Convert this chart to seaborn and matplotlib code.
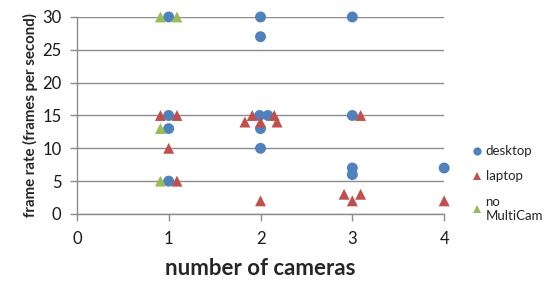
import pandas as pd
import matplotlib
matplotlib.use("Agg")
import matplotlib.pyplot as plt
import seaborn as sns

# =====================================
# Data
# =====================================
desktop_x = [1, 1, 1, 1, 2, 2, 1.99, 2.08, 2, 2, 3, 3, 3, 3, 4]
desktop_y = [30, 15, 13, 5, 30, 27, 15, 15, 13, 10, 30, 15, 7, 6, 7]

laptop_x = [0.91, 1.09, 1.0, 1.09, 1.91, 2.15, 1.83, 2.0, 2.18, 2.0,
            3.09, 2.91, 3.0, 3.09, 4.0]
laptop_y = [15, 15, 10, 5, 15, 15, 14, 14, 14, 2, 15, 3, 2, 3, 2]

nomc_x = [0.91, 1.09, 0.91, 0.91]
nomc_y = [30, 30, 13, 5]

series = ["desktop", "laptop", "no\nMultiCam"]
colors = ["#4F81BD", "#C0504D", "#9BBB59"]
markers = ["o", "^", "^"]
x_ticks = [0, 1, 2, 3, 4]
y_ticks = [0, 5, 10, 15, 20, 25, 30]

df = pd.concat([
    pd.DataFrame({"cams": desktop_x, "fps": desktop_y, "type": series[0]}),
    pd.DataFrame({"cams": laptop_x, "fps": laptop_y, "type": series[1]}),
    pd.DataFrame({"cams": nomc_x, "fps": nomc_y, "type": series[2]}),
])

# =====================================
# Plot
# =====================================
sns.set_style("white")
plt.rcParams["font.family"] = ["Lato", "DejaVu Sans"]

fig = plt.figure(figsize=(5.45, 2.98), dpi=100)
ax = fig.add_axes([0.141, 0.282, 0.674, 0.661])

for ax_y in y_ticks:
    ax.axhline(ax_y, color="#8c8c8c", lw=1.0, zorder=0)

sns.scatterplot(
    data=df, x="cams", y="fps",
    hue="type", style="type",
    palette=dict(zip(series, colors)),
    markers=dict(zip(series, markers)),
    s=62, linewidth=0, clip_on=False, zorder=3,
    ax=ax
)

ax.set_xlim(0, 4)
ax.set_ylim(0, 30)
ax.set_xticks(x_ticks)
ax.set_yticks(y_ticks)
ax.tick_params(axis="both", labelsize=12, length=5, width=1,
               color="#8c8c8c", direction="out", labelcolor="#1a1a1a")
ax.tick_params(axis="y", left=True, pad=6)
ax.tick_params(axis="x", bottom=True, pad=7)

for side in ["top", "right"]:
    ax.spines[side].set_visible(False)
for side in ["left", "bottom"]:
    ax.spines[side].set_color("#8c8c8c")
    ax.spines[side].set_linewidth(1.0)

ax.set_xlabel("number of cameras", fontsize=16, fontweight="bold", labelpad=8)
ax.set_ylabel("frame rate (frames per second)", fontsize=10.8,
              fontweight="bold", labelpad=3)

ax.legend(
    loc="center left", bbox_to_anchor=(1.057, 0.155),
    frameon=False, fontsize=9.5, handlelength=1.0, handletextpad=0.15,
    labelspacing=1.0, markerscale=0.75, borderaxespad=0
)

plt.savefig("out.png", dpi=100)
